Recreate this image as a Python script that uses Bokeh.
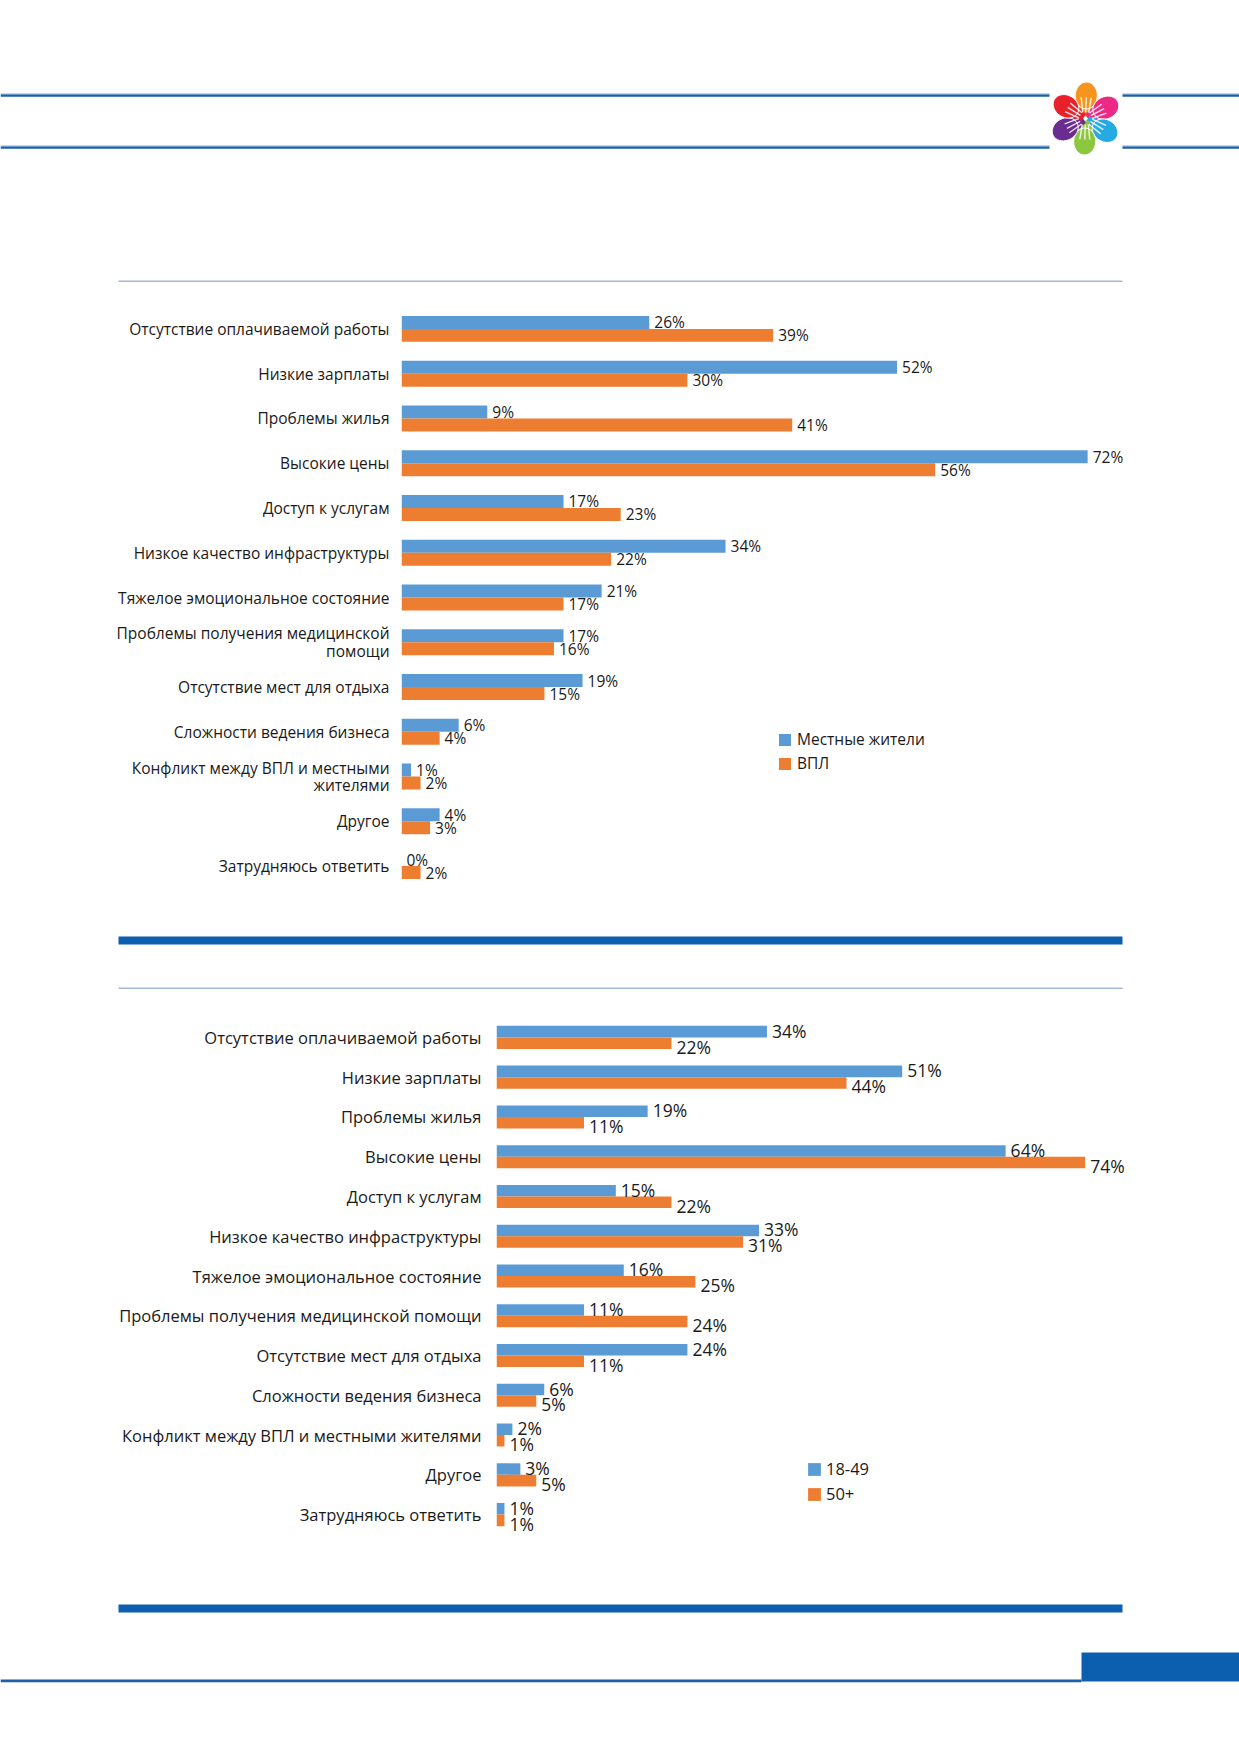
import math
from bokeh.plotting import figure
from bokeh.models import Range1d, FactorRange, ColumnDataSource, Legend, LegendItem
from bokeh.transform import dodge
from bokeh.layouts import column
from bokeh.core.properties import value
from bokeh.embed import file_html
from bokeh.resources import INLINE

# ---------------- data ----------------
categories1 = [
    "Отсутствие оплачиваемой работы",
    "Низкие зарплаты",
    "Проблемы жилья",
    "Высокие цены",
    "Доступ к услугам",
    "Низкое качество инфраструктуры",
    "Тяжелое эмоциональное состояние",
    "Проблемы получения медицинской\nпомощи",
    "Отсутствие мест для отдыха",
    "Сложности ведения бизнеса",
    "Конфликт между ВПЛ и местными\nжителями",
    "Другое",
    "Затрудняюсь ответить",
]
local_residents = [26, 52, 9, 72, 17, 34, 21, 17, 19, 6, 1, 4, 0]
idps = [39, 30, 41, 56, 23, 22, 17, 16, 15, 4, 2, 3, 2]
series1_names = ["Местные жители", "ВПЛ"]

categories2 = [
    "Отсутствие оплачиваемой работы",
    "Низкие зарплаты",
    "Проблемы жилья",
    "Высокие цены",
    "Доступ к услугам",
    "Низкое качество инфраструктуры",
    "Тяжелое эмоциональное состояние",
    "Проблемы получения медицинской помощи",
    "Отсутствие мест для отдыха",
    "Сложности ведения бизнеса",
    "Конфликт между ВПЛ и местными жителями",
    "Другое",
    "Затрудняюсь ответить",
]
age_18_49 = [34, 51, 19, 64, 15, 33, 16, 11, 24, 6, 2, 3, 1]
age_50_plus = [22, 44, 11, 74, 22, 31, 25, 24, 11, 5, 1, 5, 1]
series2_names = ["18-49", "50+"]

# ---------------- style ----------------
BLUE = "#5b9bd5"
ORANGE = "#ed7d31"
DEEP = "#0b5fae"
LINE_DARK = "#1f5ea8"
LINE_LIGHT = "#7fb0e0"
THIN = "#a3b8d4"
TXT = "#1a1a1a"
FONT = "Open Sans"
W = 1239


def no_align(p):
    if "frame_align" in p.properties():
        p.frame_align = False


def deco_fig(top, bottom):
    p = figure(width=W, height=bottom - top,
               x_range=Range1d(0, W), y_range=Range1d(bottom, top),
               x_axis_location=None, y_axis_location=None,
               toolbar_location=None, output_backend="svg",
               min_border=0, min_border_left=0, min_border_right=0,
               min_border_top=0, min_border_bottom=0)
    p.outline_line_color = None
    p.grid.visible = False
    no_align(p)
    return p


def band(p, x0, x1, y0, y1, color):
    p.quad(left=[x0], right=[x1], top=[y0], bottom=[y1], fill_color=color, line_color=None)


def double_line(p, x0, x1, y):
    band(p, x0, x1, y + 0.8, y + 3.2, LINE_DARK)
    band(p, x0, x1, y, y + 1.0, LINE_LIGHT)


# ---------------- header ----------------
header = deco_fig(0, 285)
for yy in (93, 145):
    double_line(header, 0, 1049, yy)
    double_line(header, 1122, 1240, yy)
band(header, 118, 1122, 280, 281.5, THIN)

# logo: six coloured hands around a centre
cx, cy = 1085, 118
hand_colors = ["#f7941d", "#ec2a86", "#27aae1", "#8dc63f", "#6a2c91", "#e8212a"]
hand_angles = [88, 28, -32, -92, -152, 148]
xs_all, ys_all, arm_x, arm_y, wx, wy = [], [], [], [], [], []
for ang in hand_angles:
    t = math.radians(ang)
    ux, uy = math.cos(t), -math.sin(t)      # radial (page coords)
    vx, vy = -uy, ux                          # tangential
    hx, hy = cx + 23 * ux, cy + 23 * uy
    pts_x, pts_y = [], []
    for k in range(36):
        a = 2 * math.pi * k / 36
        r1, r2 = 13.5, 11.0
        pts_x.append(hx + r1 * math.cos(a) * ux + r2 * math.sin(a) * vx)
        pts_y.append(hy + r1 * math.cos(a) * uy + r2 * math.sin(a) * vy)
    xs_all.append(pts_x)
    ys_all.append(pts_y)
    arm_x.append([cx + 2 * ux - 4 * vx, cx + 14 * ux - 7 * vx, cx + 14 * ux + 7 * vx, cx + 2 * ux + 4 * vx])
    arm_y.append([cy + 2 * uy - 4 * vy, cy + 14 * uy - 7 * vy, cy + 14 * uy + 7 * vy, cy + 2 * uy + 4 * vy])
    for off in (-5, 0, 5):
        wx.append([cx + 6 * ux + off * 0.6 * vx, cx + 21 * ux + off * vx])
        wy.append([cy + 6 * uy + off * 0.6 * vy, cy + 21 * uy + off * vy])
header.patches(xs=arm_x, ys=arm_y, fill_color=hand_colors, line_color=None)
header.patches(xs=xs_all, ys=ys_all, fill_color=hand_colors, line_color="white", line_width=1)
header.multi_line(xs=wx, ys=wy, line_color="white", line_width=1.4, line_alpha=0.85)


# ---------------- bar charts ----------------
def chart(cats, a, b, names, top, bottom, frame_top, frame_bottom, base_x, per_pct,
          cat_fs, val_fs, standoff, dy_a, dy_b, leg):
    src = ColumnDataSource(dict(cat=cats, a=a, b=b,
                                la=[f"{v}%" for v in a], lb=[f"{v}%" for v in b]))
    p = figure(width=W, height=bottom - top,
               y_range=FactorRange(factors=list(reversed(cats))),
               x_range=Range1d(0, (W - base_x) / per_pct),
               x_axis_location=None, toolbar_location=None, output_backend="svg",
               min_border_left=base_x, min_border_right=0,
               min_border_top=frame_top - top, min_border_bottom=bottom - frame_bottom)
    p.outline_line_color = None
    p.grid.visible = False
    no_align(p)
    ax = p.yaxis[0]
    ax.axis_line_color = None
    ax.major_tick_line_color = None
    ax.minor_tick_line_color = None
    ax.major_tick_out = 0
    ax.major_tick_in = 0
    ax.major_label_standoff = standoff
    ax.major_label_text_font = FONT
    ax.major_label_text_font_size = cat_fs
    ax.major_label_text_color = TXT
    ax.major_label_text_line_height = 0.8

    ra = p.hbar(y=dodge("cat", 0.145, range=p.y_range), left=0, right="a", height=0.29,
                fill_color=BLUE, line_color=None, source=src)
    rb = p.hbar(y=dodge("cat", -0.145, range=p.y_range), left=0, right="b", height=0.29,
                fill_color=ORANGE, line_color=None, source=src)
    p.text(x="a", y=dodge("cat", dy_a, range=p.y_range), text="la", x_offset=5,
           text_baseline="middle", text_align="left", text_font=value(FONT),
           text_font_size=val_fs, text_color=TXT, source=src)
    p.text(x="b", y=dodge("cat", dy_b, range=p.y_range), text="lb", x_offset=5,
           text_baseline="middle", text_align="left", text_font=value(FONT),
           text_font_size=val_fs, text_color=TXT, source=src)

    lx, ly, gsz, spacing, lstand, lfs = leg
    legend = Legend(items=[LegendItem(label=names[0], renderers=[ra]),
                           LegendItem(label=names[1], renderers=[rb])],
                    location=(lx, ly), orientation="vertical",
                    glyph_width=gsz, glyph_height=gsz, label_height=gsz,
                    spacing=spacing, label_standoff=lstand, padding=0, margin=0,
                    border_line_color=None, background_fill_alpha=0,
                    label_text_font=FONT, label_text_font_size=lfs, label_text_color=TXT)
    p.add_layout(legend)
    return p


chart1 = chart(categories1, local_residents, idps, series1_names,
               285, 905, 306, 888, 401, 9.53,
               "15.5px", "15.5px", 12, 0.145, -0.145,
               (376, 114, 15, 2, 5, "15.5px"))

strip = deco_fig(905, 1000)
band(strip, 118, 1122, 936, 944, DEEP)
band(strip, 118, 1122, 987, 988.5, THIN)

chart2 = chart(categories2, age_18_49, age_50_plus, series2_names,
               1000, 1570, 1017, 1534, 496, 7.955,
               "16.5px", "17.5px", 15, 0.17, -0.23,
               (310, 29, 16, 2, 4, "16.5px"))

footer = deco_fig(1570, 1750)
band(footer, 118, 1122, 1604, 1612, DEEP)
double_line(footer, 0, 1081, 1678.5)
band(footer, 1081, 1240, 1652, 1681, DEEP)

layout = column(header, chart1, strip, chart2, footer, spacing=0)

open("out.html", "w").write(file_html(layout, INLINE))
